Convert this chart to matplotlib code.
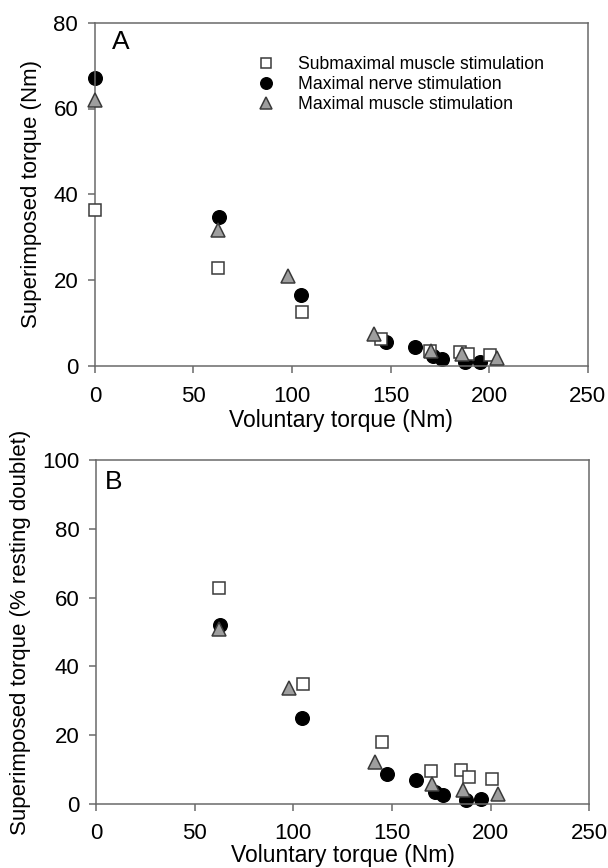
import matplotlib
matplotlib.use('Agg')
import matplotlib.pyplot as plt

plt.rcParams['font.family'] = ['Liberation Sans', 'DejaVu Sans']

# panel A: superimposed torque (Nm) vs voluntary torque (Nm)
sub_x = [0, 62.4, 105, 145, 170, 185, 189, 200.5]
sub_y_nm = [36.3, 22.8, 12.7, 6.4, 3.6, 3.4, 2.8, 2.6]
nerve_x = [0, 63, 104.6, 147.7, 162.4, 171.6, 176, 187.5, 195.2]
nerve_y_nm = [67, 34.8, 16.6, 5.7, 4.5, 2.4, 1.7, 0.9, 1.0]
muscle_x = [0, 62.4, 98, 141.5, 170.3, 186, 204]
muscle_y_nm = [62, 31.7, 21, 7.6, 3.6, 2.8, 2.0]

# panel B: % resting doublet (no points at 0 Nm)
sub_y_pct = [62.8, 34.8, 18.0, 9.6, 9.9, 7.9, 7.2]
nerve_y_pct = [52.1, 25.0, 8.7, 6.8, 3.4, 2.6, 1.0, 1.3]
muscle_y_pct = [50.9, 33.8, 12.2, 5.8, 4.1, 2.9]

labels = ['Submaximal muscle stimulation', 'Maximal nerve stimulation',
          'Maximal muscle stimulation']

spine_col = '#6a6a6a'
edge = '#3a3a3a'

fig = plt.figure(figsize=(6.08, 8.68), dpi=100)
axA = fig.add_axes([0.156, 0.578, 0.811, 0.396])
axB = fig.add_axes([0.158, 0.074, 0.811, 0.396])


def draw(ax, sx, sy, nx, ny, mx, my, lpad):
    hs, = ax.plot(sx, sy, 's', ms=8.3, mfc='white', mec=edge, mew=1.1,
                  ls='none', zorder=3, clip_on=False)
    hn, = ax.plot(nx, ny, 'o', ms=9.8, mfc='black', mec='black',
                  ls='none', zorder=2, clip_on=False)
    hm, = ax.plot(mx, my, '^', ms=9.5, mfc='#9e9e9e', mec=edge, mew=1.1,
                  ls='none', zorder=4, clip_on=False)
    for s in ax.spines.values():
        s.set_color(spine_col)
        s.set_linewidth(1.1)
    ax.tick_params(direction='out', length=5, width=1.1, color=spine_col,
                   labelsize=16, pad=7)
    ax.tick_params(axis='x', pad=9)
    ax.set_xlim(0, 250)
    ax.set_xticks([0, 50, 100, 150, 200, 250])
    ax.set_xlabel('Voluntary torque (Nm)', fontsize=16.5, labelpad=lpad)
    return hs, hn, hm


hs, hn, hm = draw(axA, sub_x, sub_y_nm, nerve_x, nerve_y_nm,
                  muscle_x, muscle_y_nm, 1.5)
axA.set_ylim(0, 80)
axA.set_yticks([0, 20, 40, 60, 80])
axA.set_ylabel('Superimposed torque (Nm)', fontsize=16, labelpad=8)
axA.text(0.034, 0.978, 'A', transform=axA.transAxes, fontsize=19,
         va='top', ha='left')
axA.legend([hs, hn, hm], labels, loc='upper left', frameon=False,
           bbox_to_anchor=(0.315, 0.922), fontsize=12.7, handlelength=1.0,
           handletextpad=1.3, labelspacing=0.17, borderaxespad=0,
           markerscale=0.85)

draw(axB, sub_x[1:], sub_y_pct, nerve_x[1:], nerve_y_pct,
     muscle_x[1:], muscle_y_pct, 0)
axB.set_ylim(0, 100)
axB.set_yticks([0, 20, 40, 60, 80, 100])
axB.set_ylabel('Superimposed torque (% resting doublet)', fontsize=16,
               labelpad=8)
axB.text(0.018, 0.972, 'B', transform=axB.transAxes, fontsize=19,
         va='top', ha='left')

fig.savefig('out.png', dpi=100)
